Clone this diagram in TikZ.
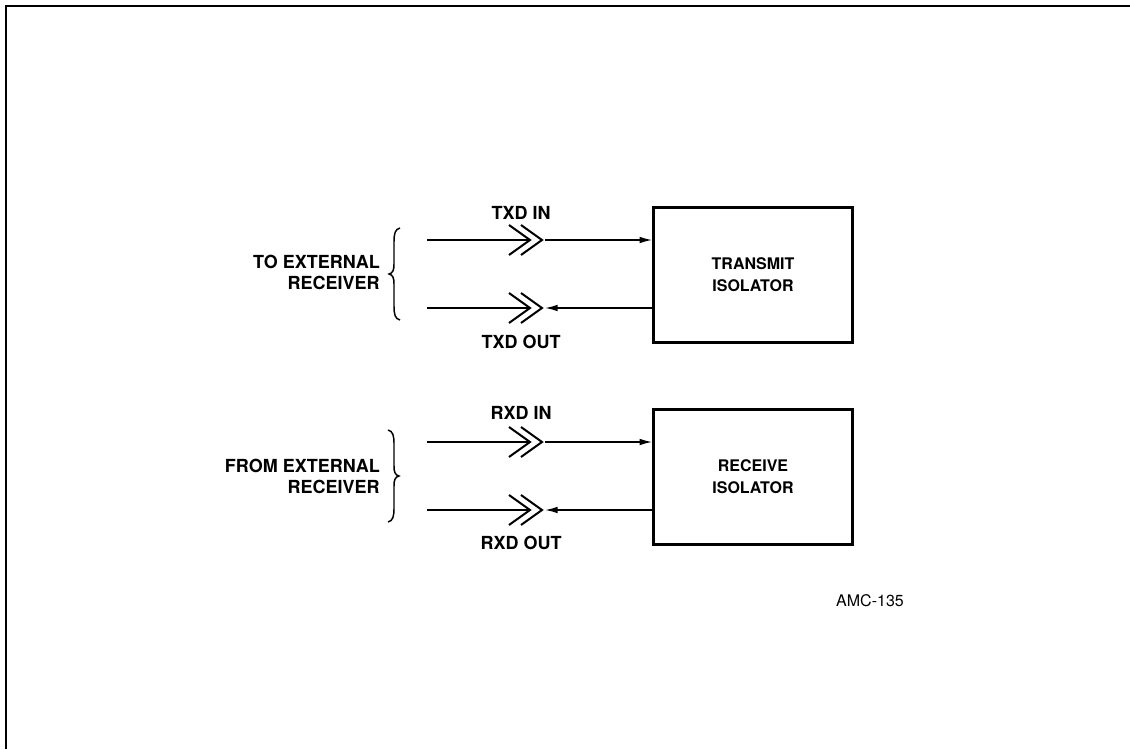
\documentclass[tikz,border=0pt]{standalone}
\usepackage{fontspec}
\setmainfont{TeX Gyre Heros}
\usetikzlibrary{arrows.meta}
\tikzset{
  lbl/.style={font=\bfseries\fontsize{13.5}{15.8}\selectfont, inner sep=0pt},
  isobox/.style={draw, line width=2.2pt, minimum width=149pt, minimum height=101pt, align=center, font=\bfseries\fontsize{12}{16.5}\selectfont},
  wire/.style={line width=1.1pt},
  arr/.style={wire, -{Latex[length=9.5pt,width=5pt]}},
  chev/.style={line width=1.5pt},
  brc/.style={line width=1.1pt}
}
\newcommand{\chevpair}[2]{%
  \draw[chev] (#1-21,#2-15) -- (#1,#2) -- (#1-21,#2+15);
  \draw[chev] (#1-9,#2-15) -- (#1+12,#2) -- (#1-9,#2+15);
}
\begin{document}
\begin{tikzpicture}[x=0.75pt,y=-0.75pt]
\useasboundingbox (0,0) rectangle (1130,749);
% frame
\draw[line width=1.8pt] (6,749) -- (6,6) -- (1130,6);

% boxes
\node[isobox] (tbox) at (753,275) {TRANSMIT\\ISOLATOR};
\node[isobox] (rbox) at (753,477) {RECEIVE\\ISOLATOR};

% TXD IN
\coordinate (ti0) at (427,240);
\coordinate (ti1) at (530,240);
\coordinate (ti2) at (545,240);
\chevpair{530}{240}
\draw[wire] (ti0) -- (ti1);
\draw[arr] (ti2) -- (tbox.west |- ti2);
\node[lbl] (tinl) at (521,213) {TXD IN};

% TXD OUT
\coordinate (to0) at (427,308);
\coordinate (to1) at (530,308);
\coordinate (to2) at (545,308);
\chevpair{530}{308}
\draw[wire] (to0) -- (to1);
\draw[arr] (tbox.west |- to2) -- (to2);
\node[lbl] (toutl) at (521,342) {TXD OUT};

% RXD IN
\coordinate (ri0) at (427,442);
\coordinate (ri1) at (530,442);
\coordinate (ri2) at (545,442);
\chevpair{530}{442}
\draw[wire] (ri0) -- (ri1);
\draw[arr] (ri2) -- (rbox.west |- ri2);
\node[lbl] (rinl) at (521,413) {RXD IN};

% RXD OUT
\coordinate (ro0) at (427,510);
\coordinate (ro1) at (530,510);
\coordinate (ro2) at (545,510);
\chevpair{530}{510}
\draw[wire] (ro0) -- (ro1);
\draw[arr] (rbox.west |- ro2) -- (ro2);
\node[lbl] (routl) at (521,543) {RXD OUT};

% left labels
\node[lbl, anchor=east, align=right] (tol) at (380,272) {TO EXTERNAL\\RECEIVER};
\node[lbl, anchor=east, align=right] (froml) at (380,476) {FROM EXTERNAL\\RECEIVER};

% brace {
\draw[brc] (400,228) .. controls (395,229) and (394,234) .. (394,242)
  -- (394,264) .. controls (394,270) and (393,273) .. (389,274)
  .. controls (393,275) and (394,278) .. (394,284)
  -- (394,306) .. controls (394,314) and (395,319) .. (400,320);
% brace }
\draw[brc] (388,430) .. controls (393,431) and (394,436) .. (394,444)
  -- (394,466) .. controls (394,472) and (395,475) .. (399,476)
  .. controls (395,477) and (394,480) .. (394,486)
  -- (394,508) .. controls (394,516) and (393,521) .. (388,522);

\node[font=\fontsize{12}{14}\selectfont, inner sep=0pt] (amc) at (870,601) {AMC-135};
\end{tikzpicture}
\end{document}
